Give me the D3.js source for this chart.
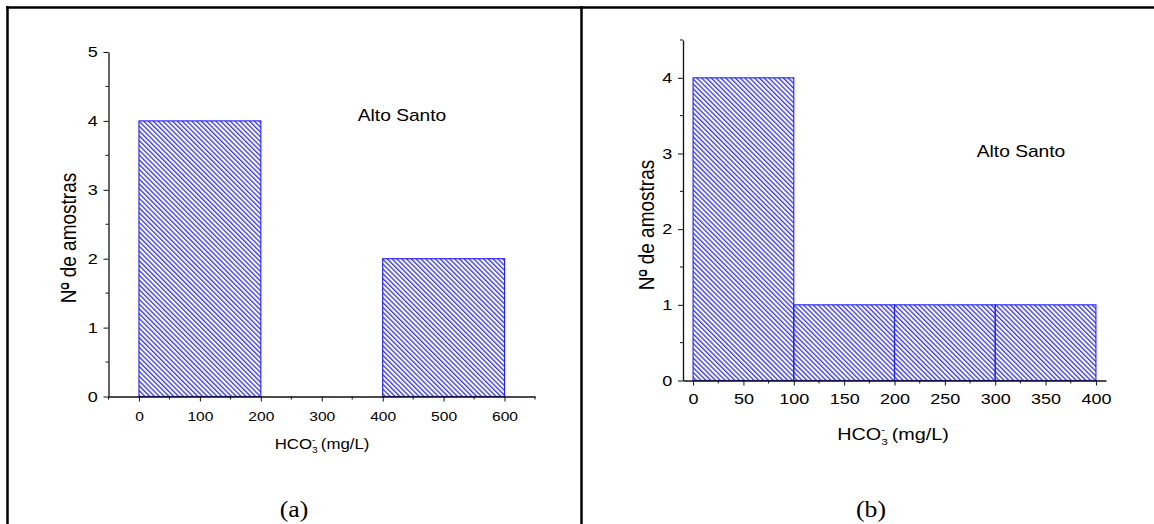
<!DOCTYPE html>
<html>
<head>
<meta charset="utf-8">
<script src="https://cdn.jsdelivr.net/npm/d3@7"></script>
<style>
  html, body { margin: 0; padding: 0; background: #fff; }
  svg { display: block; }
  text { font-family: "Liberation Sans", Arial, sans-serif; fill: #000; }
</style>
</head>
<body>
<svg id="chart" width="1154" height="524"></svg>
<script>
// ---------- data ----------
const binsA_x0 = [0, 200, 400];
const binsA_x1 = [200, 400, 600];
const binsA_n  = [4, 0, 2];
const ticksA_x = [0, 100, 200, 300, 400, 500, 600];
const ticksA_y = [0, 1, 2, 3, 4, 5];

const binsB_x0 = [0, 100, 200, 300];
const binsB_x1 = [100, 200, 300, 400];
const binsB_n  = [4, 1, 1, 1];
const ticksB_x = [0, 50, 100, 150, 200, 250, 300, 350, 400];
const ticksB_y = [0, 1, 2, 3, 4];

const siteLabel = "Alto Santo";
const yTitle = "Nº de amostras";
const panelLabels = ["(a)", "(b)"];

// ---------- drawing ----------
const SX = 1.2; // horizontal text stretch seen in the reference
const svg = d3.select("#chart");
const blue = "#0000ff";

const defs = svg.append("defs");
const pat = defs.append("pattern")
  .attr("id", "hatch")
  .attr("patternUnits", "userSpaceOnUse")
  .attr("width", 10).attr("height", 3.4)
  .attr("patternTransform", "rotate(45)");
pat.append("line").attr("x1", -1).attr("x2", 11).attr("y1", 1).attr("y2", 1)
  .attr("stroke", blue).attr("stroke-width", 1.05);

// frame
const frame = svg.append("g").attr("stroke", "#000").attr("stroke-width", 2.5);
frame.append("line").attr("x1", 6).attr("x2", 1154).attr("y1", 7.5).attr("y2", 7.5);
frame.append("line").attr("x1", 7.5).attr("x2", 7.5).attr("y1", 6).attr("y2", 524);
frame.append("line").attr("x1", 581.5).attr("x2", 581.5).attr("y1", 6).attr("y2", 524);

function stretchedText(parent, x, y, size, family, sx) {
  const t = parent.append("text")
    .attr("transform", `translate(${x},${y}) scale(${sx || SX},1)`)
    .attr("text-anchor", "middle").style("font-size", size + "px");
  if (family) t.style("font-family", family);
  return t;
}

function panel(cfg) {
  const g = svg.append("g");
  const x = d3.scaleLinear().domain(cfg.xDomain).range(cfg.xRange);
  const y = d3.scaleLinear().domain(cfg.yDomain).range(cfg.yRange);

  const bins = cfg.x0.map((v, i) => ({x0: v, x1: cfg.x1[i], n: cfg.n[i]})).filter(d => d.n > 0);
  g.selectAll("rect.bar").data(bins).join("rect")
    .attr("class", "bar")
    .attr("x", d => x(d.x0))
    .attr("y", d => y(d.n))
    .attr("width", d => x(d.x1) - x(d.x0))
    .attr("height", d => y(0) - y(d.n))
    .attr("fill", "url(#hatch)")
    .attr("stroke", "#2020ff").attr("stroke-width", 1.1);

  // x axis
  const xMinor = d3.range(cfg.xMinorStart, cfg.xDomain[1] + 0.001, cfg.xMinorStep)
    .filter(v => !cfg.xTicks.includes(v));
  const xa = g.append("g").attr("transform", `translate(0,${y(0)})`);
  xa.call(d3.axisBottom(x).tickValues(cfg.xTicks).tickSize(5).tickPadding(cfg.xPad).tickSizeOuter(0));
  xa.append("g").selectAll("line").data(xMinor).join("line")
    .attr("x1", d => x(d)).attr("x2", d => x(d)).attr("y1", 0).attr("y2", 3).attr("stroke", "#111");
  xa.selectAll("text").style("font-size", cfg.xFont + "px").attr("fill", "#000")
    .attr("transform", `scale(${SX},1)`);

  // y axis
  const yMinor = d3.range(0, cfg.yDomain[1] + 0.001, 0.5).filter(v => !cfg.yTicks.includes(v));
  const ya = g.append("g").attr("transform", `translate(${cfg.xRange[0]},0)`);
  ya.call(d3.axisLeft(y).tickValues(cfg.yTicks).tickSize(5).tickPadding(4).tickSizeOuter(0).tickFormat(d3.format("d")));
  ya.append("g").selectAll("line").data(yMinor).join("line")
    .attr("y1", d => y(d)).attr("y2", d => y(d)).attr("x1", 0).attr("x2", -3).attr("stroke", "#111");
  ya.selectAll("text").style("font-size", cfg.yFont + "px").attr("fill", "#000")
    .attr("transform", `scale(${SX},1)`);

  [xa, ya].forEach(a => {
    a.selectAll(".domain").attr("stroke", "#111").attr("stroke-width", 1.3);
    a.selectAll(".tick line").attr("stroke", "#111");
  });

  // site label
  stretchedText(g, cfg.siteX, cfg.siteY, cfg.siteFont).text(siteLabel);

  // y title (rotated, stretched horizontally on screen)
  const fsY = cfg.yTitleFont;
  const yg = g.append("g")
    .attr("transform", `translate(${cfg.yTitleX},${cfg.yTitleY}) scale(${SX},1) rotate(-90)`);
  const yt = yg.append("text").attr("text-anchor", "middle").style("font-size", fsY + "px").text(yTitle);
  // underline of the ordinal indicator
  const total = yt.node().getComputedTextLength();
  const tmp = yg.append("text").style("font-size", fsY + "px").text("N");
  const wN = tmp.node().getComputedTextLength();
  tmp.text("Nº");
  const wNo = tmp.node().getComputedTextLength();
  tmp.remove();
  yg.append("line")
    .attr("x1", -total / 2 + wN + 0.5).attr("x2", -total / 2 + wNo - 0.3)
    .attr("y1", -fsY * 0.37).attr("y2", -fsY * 0.37)
    .attr("stroke", "#000").attr("stroke-width", 1.1);

  // x title: HCO3^- (mg/L)
  const fs = cfg.xTitleFont;
  const t = stretchedText(g, cfg.xTitleX, cfg.xTitleY, fs);
  t.append("tspan").text("HCO");
  t.append("tspan").attr("dy", fs * 0.3).style("font-size", (fs * 0.6) + "px").text("3");
  t.append("tspan").attr("dx", -fs * 0.33).attr("dy", -fs * 0.75).style("font-size", (fs * 0.6) + "px").text("-");
  t.append("tspan").attr("dy", fs * 0.45).attr("dx", fs * 0.05).text(" (mg/L)");

  // panel label
  stretchedText(svg, cfg.labelX, 517, 23, '"Liberation Serif", "Times New Roman", serif', 1.12).text(cfg.label);
}

panel({
  x0: binsA_x0, x1: binsA_x1, n: binsA_n,
  xTicks: ticksA_x, yTicks: ticksA_y,
  xDomain: [-50, 650], xRange: [108.5, 535],
  yDomain: [0, 5], yRange: [396.5, 52],
  xMinorStart: -50, xMinorStep: 50,
  xFont: 13, yFont: 15, xPad: 10,
  siteX: 402, siteY: 121, siteFont: 16,
  yTitleX: 76, yTitleY: 238, yTitleFont: 19,
  xTitleX: 322, xTitleY: 449, xTitleFont: 14,
  labelX: 294, label: panelLabels[0]
});

panel({
  x0: binsB_x0, x1: binsB_x1, n: binsB_n,
  xTicks: ticksB_x, yTicks: ticksB_y,
  xDomain: [-10, 410], xRange: [683, 1106],
  yDomain: [0, 4.5], yRange: [380.5, 40],
  xMinorStart: 25, xMinorStep: 25,
  xFont: 15, yFont: 15, xPad: 8,
  siteX: 1021, siteY: 157, siteFont: 16,
  yTitleX: 654, yTitleY: 225, yTitleFont: 19,
  xTitleX: 893, xTitleY: 440, xTitleFont: 16.5,
  labelX: 871, label: panelLabels[1]
});
</script>
</body>
</html>
